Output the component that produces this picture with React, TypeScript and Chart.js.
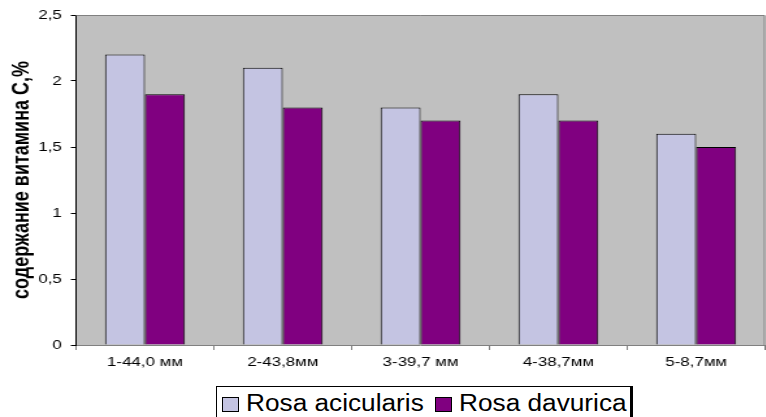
import React, { useEffect, useRef } from "react";
import { Chart, registerables } from "chart.js";

Chart.register(...registerables);

const categories = ["1-44,0 мм", "2-43,8мм", "3-39,7 мм", "4-38,7мм", "5-8,7мм"];
const acicularis = [2.2, 2.1, 1.8, 1.9, 1.6];
const davurica = [1.9, 1.8, 1.7, 1.7, 1.5];
const seriesNames = ["Rosa acicularis", "Rosa davurica"];
const seriesColors = ["#C4C4E2", "#800080"];
const yTitle = "содержание витамина С,%";

// The chart is drawn on a narrower canvas and widened with CSS,
// which gives the wide, stretched lettering of the original figure.
const STRETCH = 1.3;
const CANVAS_W = 589;
const CANVAS_H = 417;
const FONT = "Arial, 'Liberation Sans', sans-serif";

const plotBackground = {
  id: "plotBackground",
  beforeDraw(chart: any) {
    const { ctx, chartArea: a } = chart;
    ctx.save();
    ctx.fillStyle = "#C0C0C0";
    ctx.fillRect(a.left, a.top, a.right - a.left, a.bottom - a.top);
    ctx.restore();
  },
  afterDatasetsDraw(chart: any) {
    const { ctx, chartArea: a } = chart;
    ctx.save();
    ctx.lineWidth = 1;
    ctx.strokeStyle = "#808080";
    ctx.beginPath();
    ctx.moveTo(a.left, a.top + 0.5);
    ctx.lineTo(a.right - 0.5, a.top + 0.5);
    ctx.lineTo(a.right - 0.5, a.bottom);
    ctx.stroke();
    ctx.restore();
  },
};

export default function App() {
  const ref = useRef<HTMLCanvasElement>(null);

  useEffect(() => {
    document.body.style.margin = "0";
    const chart = new Chart(ref.current!, {
      type: "bar",
      data: {
        labels: categories,
        datasets: [
          {
            label: seriesNames[0],
            data: acicularis,
            backgroundColor: seriesColors[0],
            borderColor: "#000000",
            borderWidth: 1,
            borderSkipped: "bottom",
            categoryPercentage: 0.58,
            barPercentage: 1,
          },
          {
            label: seriesNames[1],
            data: davurica,
            backgroundColor: seriesColors[1],
            borderColor: "#000000",
            borderWidth: 1,
            borderSkipped: "bottom",
            categoryPercentage: 0.58,
            barPercentage: 1,
          },
        ],
      },
      options: {
        animation: false,
        responsive: false,
        maintainAspectRatio: false,
        layout: { padding: { top: 15, right: 0.5, left: 0, bottom: 0 } },
        plugins: { legend: { display: false }, tooltip: { enabled: false } },
        scales: {
          x: {
            grid: {
              drawOnChartArea: false,
              tickLength: 5,
              color: "#808080",
              offset: true,
            },
            border: { color: "#808080" },
            ticks: {
              color: "#000000",
              font: { family: FONT, size: 13 },
              padding: 5,
            },
            afterFit(scale: any) {
              scale.height = 72;
            },
          },
          y: {
            min: 0,
            max: 2.5,
            ticks: {
              stepSize: 0.5,
              color: "#000000",
              font: { family: FONT, size: 13 },
              padding: 7,
              callback: (v: any) => String(v).replace(".", ","),
            },
            grid: { drawOnChartArea: false, tickLength: 4, color: "#000000" },
            border: { color: "#000000" },
            title: {
              display: true,
              text: yTitle,
              color: "#000000",
              font: { family: FONT, size: 18, weight: "bold" },
              padding: { top: 6, bottom: 0 },
            },
            afterFit(scale: any) {
              scale.width = 58.5;
            },
          },
        },
      },
      plugins: [plotBackground],
    });
    return () => chart.destroy();
  }, []);

  const swatch = (c: string, left: number) => ({
    position: "absolute" as const,
    left,
    top: 397,
    width: 17,
    height: 15,
    background: c,
    border: "1px solid #000",
    boxSizing: "border-box" as const,
  });

  const label = (left: number) => ({
    position: "absolute" as const,
    left,
    top: 392,
    fontFamily: FONT,
    fontSize: 23,
    lineHeight: "23px",
    color: "#000",
    whiteSpace: "nowrap" as const,
    transform: "scaleX(1.14)",
    transformOrigin: "0 0",
  });

  return (
    <div
      style={{
        position: "fixed",
        left: 0,
        top: 0,
        width: 766,
        height: 417,
        overflow: "hidden",
        background: "#fff",
      }}
    >
      <div
        style={{
          position: "absolute",
          left: 0,
          top: 0,
          width: CANVAS_W,
          height: CANVAS_H,
          transform: `scaleX(${STRETCH})`,
          transformOrigin: "0 0",
        }}
      >
        <canvas ref={ref} width={CANVAS_W} height={CANVAS_H} style={{ display: "block" }} />
      </div>
      <div
        style={{
          position: "absolute",
          left: 216,
          top: 386,
          width: 417,
          height: 40,
          border: "1px solid #000",
          borderRight: "3px solid #000",
          boxSizing: "border-box",
          background: "#fff",
        }}
      />
      <div style={swatch(seriesColors[0], 222)} />
      <div style={label(246)}>{seriesNames[0]}</div>
      <div style={swatch(seriesColors[1], 435)} />
      <div style={label(459)}>{seriesNames[1]}</div>
    </div>
  );
}
